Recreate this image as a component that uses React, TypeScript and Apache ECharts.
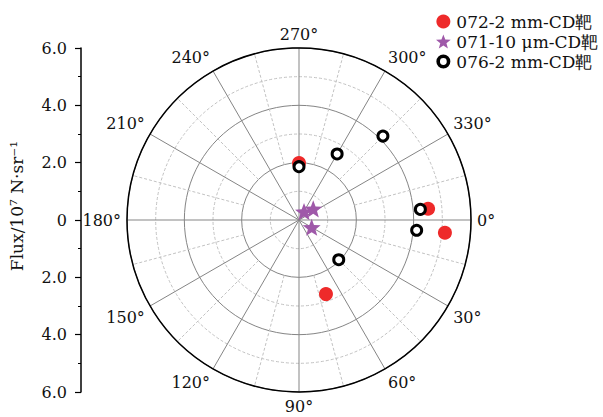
import React, { useEffect, useRef } from "react";
import * as echarts from "echarts";

// Flux values (10^7 N·sr^-1) and emission angles (deg)
const red072Radius = [1.99, 4.52, 5.11, 2.75];
const red072Angle = [270, 355, 5, 70];

const star071Radius = [0.34, 0.63, 0.51];
const star071Angle = [301, 322, 30];

const ring076Radius = [1.86, 2.66, 4.14, 4.25, 4.12, 1.96];
const ring076Angle = [270, 300, 315, 355, 5, 45];

const seriesNames = ["072-2 mm-CD靶", "071-10 μm-CD靶", "076-2 mm-CD靶"];
const minorSpokeAngles = [15, 45, 75, 105, 135, 165, 195, 225, 255, 285, 315, 345];

const FONT = "DejaVu Serif";
const TEXT = "#111";
const STAR =
  "path://M50,0 L62.35,33 L97.55,34.55 L69.97,56.49 L79.39,90.45 L50,71 L20.61,90.45 L30.03,56.49 L2.45,34.55 L37.65,33 Z";
// annulus used as the legend icon of the open-circle series
const RING =
  "path://M0,7 A7,7 0 1,0 14,7 A7,7 0 1,0 0,7 Z M3.6,7 A3.4,3.4 0 1,1 10.4,7 A3.4,3.4 0 1,1 3.6,7 Z";

const zip = (r: number[], a: number[]) => r.map((v, i) => [v, a[i]]);

export default function App() {
  const ref = useRef<HTMLDivElement>(null);

  useEffect(() => {
    if (!ref.current) return;
    const chart = echarts.init(ref.current, undefined, { renderer: "svg" });

    // dashed spokes between r = 2 and the rim
    const spokeData: any[] = [];
    minorSpokeAngles.forEach((a, i) => {
      if (i > 0) spokeData.push("-");
      spokeData.push([2, a], [6, a]);
    });

    chart.setOption({
      animation: false,
      textStyle: { fontFamily: FONT },
      polar: { center: [299, 220], radius: 172 },
      angleAxis: {
        type: "value",
        min: 0,
        max: 360,
        interval: 30,
        startAngle: 0,
        clockwise: true,
        axisLine: { lineStyle: { color: "#000", width: 1.5 } },
        axisTick: { show: false },
        axisLabel: {
          margin: 6,
          color: TEXT,
          fontFamily: FONT,
          fontSize: 16,
          formatter: (v: number) => (v === 360 ? "" : v + "°"),
        },
        splitLine: { show: true, lineStyle: { color: "#858585", width: 1 } },
      },
      radiusAxis: {
        type: "value",
        min: 0,
        max: 6,
        interval: 2,
        axisLine: { show: false },
        axisTick: { show: false },
        axisLabel: { show: false },
        splitLine: { show: true, lineStyle: { color: "#858585", width: 1 } },
        minorTick: { show: false, splitNumber: 2 },
        minorSplitLine: {
          show: true,
          lineStyle: { color: "#c2c2c2", width: 1, type: [3, 2] },
        },
      },
      grid: { left: 81, top: 48, height: 344, width: 1 },
      xAxis: { type: "value", show: false },
      yAxis: {
        type: "value",
        min: -6,
        max: 6,
        interval: 2,
        axisLine: { show: true, onZero: false, lineStyle: { color: "#000", width: 1.5 } },
        axisTick: { show: true, inside: false, length: 6, lineStyle: { color: "#000", width: 1.2 } },
        minorTick: { show: true, splitNumber: 2, length: 3, lineStyle: { color: "#000", width: 1 } },
        splitLine: { show: false },
        axisLabel: {
          margin: 14,
          color: TEXT,
          fontFamily: FONT,
          fontSize: 16,
          formatter: (v: number) => (v === 0 ? "0" : Math.abs(v).toFixed(1)),
        },
      },
      legend: {
        orient: "vertical",
        left: 431,
        top: 8,
        itemWidth: 16,
        itemHeight: 14,
        itemGap: 3,
        textStyle: { fontFamily: FONT, fontSize: 17, color: TEXT },
        data: [
          { name: seriesNames[0], icon: "circle" },
          { name: seriesNames[1], icon: STAR },
          { name: seriesNames[2], icon: RING, itemStyle: { color: "#000", borderWidth: 0 } },
        ],
      },
      graphic: [
        {
          type: "text",
          x: 17,
          y: 206,
          rotation: Math.PI / 2,
          style: {
            text: "Flux/10⁷ N·sr⁻¹",
            fontFamily: FONT,
            fontSize: 17,
            fill: TEXT,
            align: "center",
            verticalAlign: "middle",
          },
        },
      ],
      series: [
        {
          type: "line",
          coordinateSystem: "polar",
          silent: true,
          symbol: "none",
          connectNulls: false,
          lineStyle: { color: "#c2c2c2", width: 1, type: [3, 2] },
          data: spokeData,
          z: 1,
        },
        {
          name: seriesNames[0],
          type: "scatter",
          coordinateSystem: "polar",
          symbol: "circle",
          symbolSize: 14,
          itemStyle: { color: "#ee2a2a", opacity: 1 },
          data: zip(red072Radius, red072Angle),
          z: 3,
        },
        {
          name: seriesNames[1],
          type: "scatter",
          coordinateSystem: "polar",
          symbol: STAR,
          symbolKeepAspect: true,
          symbolSize: 18,
          itemStyle: { color: "#9f59a9", opacity: 1 },
          data: zip(star071Radius, star071Angle),
          z: 4,
        },
        {
          name: seriesNames[2],
          type: "scatter",
          coordinateSystem: "polar",
          symbol: "circle",
          symbolSize: 10,
          itemStyle: { color: "#fff", borderColor: "#000", borderWidth: 3, opacity: 1 },
          data: zip(ring076Radius, ring076Angle),
          z: 5,
        },
      ],
    });

    return () => chart.dispose();
  }, []);

  return (
    <div
      ref={ref}
      style={{ position: "fixed", left: 0, top: 0, width: 603, height: 417, background: "#fff" }}
    />
  );
}
